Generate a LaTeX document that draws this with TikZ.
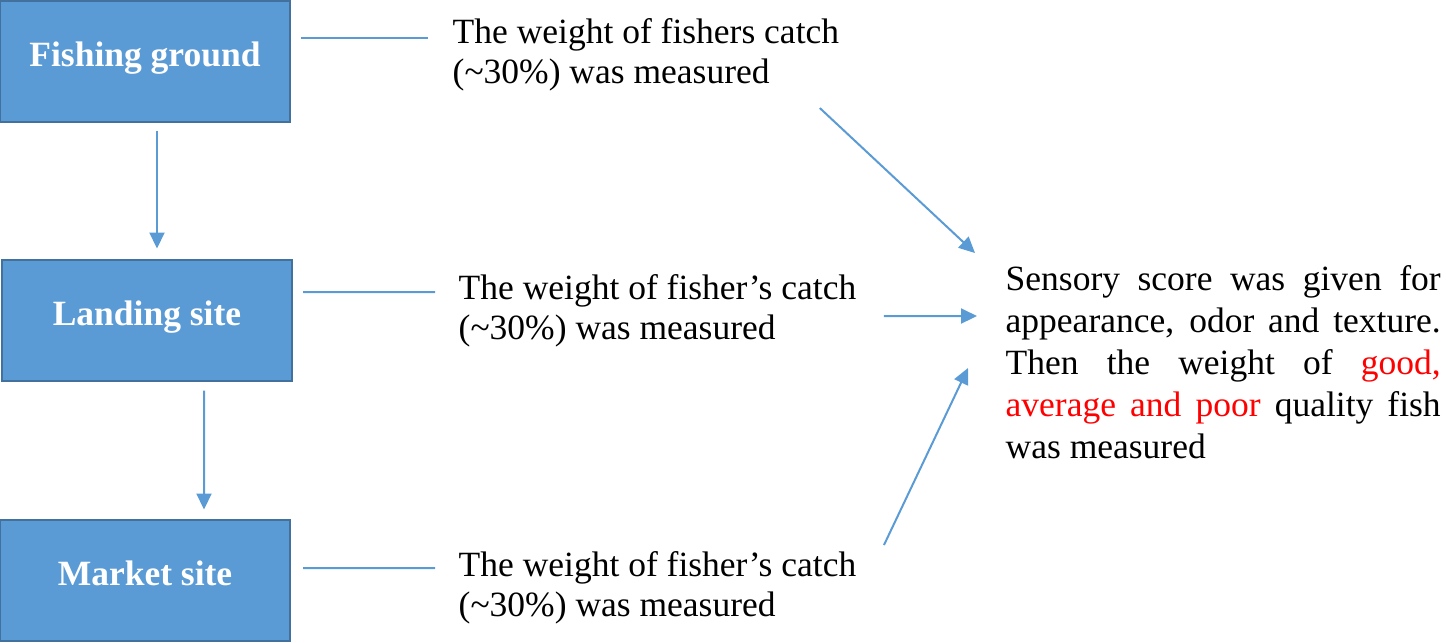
\documentclass[tikz,border=0pt]{standalone}
\usepackage{fontspec}
\setmainfont{Liberation Serif}
\usepackage{tikz}
\usetikzlibrary{arrows.meta, positioning}
\definecolor{boxblue}{HTML}{5B9BD5}
\definecolor{boxedge}{HTML}{41719C}
\definecolor{qualred}{HTML}{FF0000}
\tikzset{
    stagebox/.style={rectangle, draw=boxedge, line width=0.2mm, fill=boxblue, text=white, align=center, minimum width=29mm, minimum height=12.1mm, inner sep=0pt, text height=2.6mm, text depth=1.6mm, font=\fontsize{10.1}{11.4}\selectfont\bfseries},
    notetext/.style={anchor=west, align=left, inner sep=0pt, font=\fontsize{10.1}{11.4}\selectfont},
    resulttext/.style={anchor=west, align=left, inner sep=0pt, font=\fontsize{10.1}{11.95}\selectfont},
    arrow/.style={draw=boxblue, line width=0.2mm, -{Triangle[length=1.6mm, width=1.5mm]}},
    link/.style={draw=boxblue, line width=0.2mm}
}

\begin{document}
\begin{tikzpicture}[x=0.1mm, y=-0.1mm]
    \useasboundingbox (0,0) rectangle (1446,642);

    % Left column: where the fish is weighed
    \node[stagebox] (fishing) at (145,61) {Fishing ground};
    \node[stagebox] (landing) at (147,320) {Landing site};
    \node[stagebox] (market) at (145,580) {Market site};
    \draw[arrow] ([xshift=1.2mm, yshift=-0.8mm]fishing.south) -- ([xshift=1.0mm, yshift=1mm]landing.north);
    \draw[arrow] ([xshift=5.7mm, yshift=-0.9mm]landing.south) -- ([xshift=5.9mm, yshift=0.9mm]market.north);

    % Middle column: catch measured at each stage
    \node[notetext] (catchone) at (452,55) {The weight of fishers catch\\(\textasciitilde30\%) was measured};
    \node[notetext] (catchtwo) at (458,311) {The weight of fisher’s catch\\(\textasciitilde30\%) was measured};
    \node[notetext] (catchthree) at (458,588) {The weight of fisher’s catch\\(\textasciitilde30\%) was measured};
    \draw[link] ([shift={(1mm,2.3mm)}]fishing.east) -- ([shift={(-2.4mm,1.7mm)}]catchone.west);
    \draw[link] ([shift={(1mm,2.8mm)}]landing.east) -- ([shift={(-2.3mm,1.9mm)}]catchtwo.west);
    \draw[link] ([shift={(1.2mm,1.2mm)}]market.east) -- ([shift={(-2.3mm,2mm)}]catchthree.west);

    % Right column: sensory scoring
    \node[resulttext] (sensory) at (1005,362) {\makebox[43.5mm][s]{Sensory score was given for}\\
        \makebox[43.5mm][s]{appearance, odor and texture.}\\
        \makebox[43.5mm][s]{Then the weight of \textcolor{qualred}{good,}}\\
        \makebox[43.5mm][s]{\textcolor{qualred}{average and poor} quality fish}\\
        was measured};
    \draw[arrow] ([shift={(-2mm,-1.6mm)}]catchone.south east) -- ([shift={(-3mm,10.9mm)}]sensory.west);
    \draw[arrow] ([shift={(2.7mm,-0.5mm)}]catchtwo.east) -- ([shift={(-2.8mm,4.6mm)}]sensory.west);
    \draw[arrow] ([shift={(2.7mm,4.3mm)}]catchthree.east) -- ([shift={(-3.7mm,-0.6mm)}]sensory.west);
\end{tikzpicture}
\end{document}
